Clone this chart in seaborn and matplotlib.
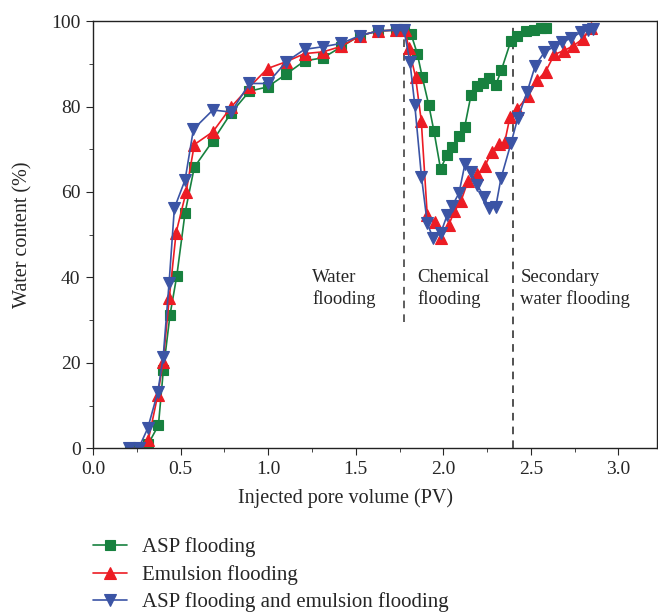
import matplotlib
matplotlib.use("Agg")
import matplotlib.pyplot as plt
import pandas as pd
import seaborn as sns
from matplotlib.ticker import MultipleLocator

# ASP flooding
asp_pv = [0.21, 0.27, 0.315, 0.373, 0.401, 0.439, 0.478, 0.525, 0.578, 0.684, 0.788, 0.893,
          0.996, 1.103, 1.208, 1.313, 1.418, 1.523, 1.628, 1.732, 1.775, 1.816, 1.851, 1.879,
          1.917, 1.946, 1.984, 2.02, 2.051, 2.089, 2.122, 2.158, 2.194, 2.226, 2.26, 2.299,
          2.331, 2.385, 2.419, 2.47, 2.518, 2.556, 2.585]
asp_wc = [0, 0, 1.0, 5.4, 18.3, 31.2, 40.4, 55.1, 65.8, 72.0, 78.5, 83.6,
          84.6, 87.6, 90.7, 91.4, 94.0, 96.6, 97.7, 97.9, 98.2, 96.9, 92.4, 87.0,
          80.3, 74.3, 65.4, 68.6, 70.6, 73.2, 75.3, 82.7, 84.9, 85.4, 86.6, 85.0,
          88.5, 95.3, 96.6, 97.7, 98.0, 98.3, 98.3]

# Emulsion flooding
emu_pv = [0.21, 0.27, 0.315, 0.369, 0.40, 0.435, 0.474, 0.531, 0.578, 0.684, 0.788, 0.893,
          0.996, 1.103, 1.208, 1.313, 1.418, 1.523, 1.628, 1.732, 1.78, 1.803, 1.841, 1.874,
          1.908, 1.955, 1.987, 2.031, 2.063, 2.10, 2.14, 2.194, 2.236, 2.275, 2.315, 2.35,
          2.38, 2.423, 2.483, 2.535, 2.584, 2.634, 2.689, 2.741, 2.795, 2.845]
emu_wc = [0, 0, 1.9, 12.4, 20.3, 35.2, 50.5, 60.0, 71.1, 74.1, 79.9, 84.6,
          88.9, 90.5, 92.4, 92.8, 94.1, 96.6, 97.7, 97.9, 98.0, 93.6, 87.0, 76.6,
          54.6, 53.0, 49.2, 52.3, 55.5, 57.8, 62.5, 64.1, 66.0, 69.3, 71.2, 71.6,
          77.5, 79.5, 82.4, 86.1, 88.2, 92.2, 93.1, 94.2, 95.8, 98.3]

# ASP flooding and emulsion flooding
both_pv = [0.205, 0.26, 0.312, 0.369, 0.40, 0.434, 0.464, 0.525, 0.573, 0.684, 0.788, 0.893,
           0.996, 1.103, 1.208, 1.313, 1.418, 1.523, 1.628, 1.732, 1.775, 1.809, 1.837, 1.875,
           1.908, 1.94, 1.984, 2.022, 2.051, 2.089, 2.123, 2.156, 2.194, 2.232, 2.26, 2.299,
           2.329, 2.386, 2.425, 2.478, 2.525, 2.577, 2.63, 2.68, 2.729, 2.785, 2.825, 2.852]
both_wc = [0, 0, 4.7, 13.1, 21.3, 38.8, 56.2, 62.8, 74.7, 79.2, 78.7, 85.4,
           85.4, 90.5, 93.4, 94.0, 94.8, 96.6, 97.7, 97.9, 97.9, 90.5, 80.3, 63.6,
           52.7, 49.3, 50.3, 54.6, 56.8, 59.7, 66.5, 64.7, 61.6, 58.9, 56.2, 56.5,
           63.2, 71.4, 77.3, 83.4, 89.6, 92.7, 94.0, 95.1, 96.0, 97.4, 97.9, 98.2]

stage_bounds = [1.775, 2.4]
stage_labels = ["Water\nflooding", "Chemical\nflooding", "Secondary\nwater flooding"]
stage_label_x = [1.25, 1.85, 2.44]

series = [
    ("ASP flooding", asp_pv, asp_wc, "#17813f", "s", 6.5),
    ("Emulsion flooding", emu_pv, emu_wc, "#ec1c24", "^", 8.5),
    ("ASP flooding and emulsion flooding", both_pv, both_wc, "#3b54a5", "v", 8.5),
]

sns.set_style("ticks")
plt.rcParams["font.family"] = ["Liberation Serif", "DejaVu Serif"]

fig = plt.figure(figsize=(6.58, 6.12), dpi=100)
ax = fig.add_axes([0.1415, 0.2675, 0.857, 0.698])

for name, pv, wc, color, mk, ms in series:
    df = pd.DataFrame({"pv": pv, "wc": wc})
    sns.lineplot(data=df, x="pv", y="wc", ax=ax, color=color, marker=mk, markersize=ms,
                 markeredgecolor=color, markeredgewidth=0.8, linewidth=1.2,
                 sort=False, label=name)

ax.plot([stage_bounds[0], stage_bounds[0]], [29.5, 100], color="#333333",
        linestyle=(0, (5, 4)), linewidth=1.1, zorder=1)
ax.plot([stage_bounds[1], stage_bounds[1]], [0, 100], color="#222222",
        linestyle=(0, (5, 4)), linewidth=1.1, zorder=1)

for lx, txt in zip(stage_label_x, stage_labels):
    ax.text(lx, 37.5, txt, ha="left", va="center", fontsize=13.5, linespacing=1.3)

ax.set_xlim(0, 3.22)
ax.set_ylim(0, 100)
ax.xaxis.set_major_locator(MultipleLocator(0.5))
ax.xaxis.set_minor_locator(MultipleLocator(0.25))
ax.yaxis.set_major_locator(MultipleLocator(20))
ax.yaxis.set_minor_locator(MultipleLocator(10))
ax.xaxis.set_major_formatter(plt.FormatStrFormatter("%.1f"))
ax.tick_params(which="both", direction="out", top=False, right=False, labelsize=14)
ax.tick_params(which="major", length=5, pad=4)
ax.tick_params(which="minor", length=3)
for sp in ax.spines.values():
    sp.set_linewidth(1.0)
    sp.set_color("#222222")

ax.set_xlabel("Injected pore volume (PV)", fontsize=14.5)
ax.set_ylabel("Water content (%)", fontsize=14.5)
ax.xaxis.set_label_coords(0.447, -0.093)
ax.yaxis.set_label_coords(-0.107, 0.5)

handles, labels = ax.get_legend_handles_labels()
ax.get_legend().remove()
fig.legend(handles, labels, loc="upper left", bbox_to_anchor=(0.141, 0.122),
           frameon=False, fontsize=15, handlelength=1.65, handletextpad=0.7,
           labelspacing=0.37, borderaxespad=0.0, borderpad=0.0)

fig.savefig("out.png", dpi=100)
